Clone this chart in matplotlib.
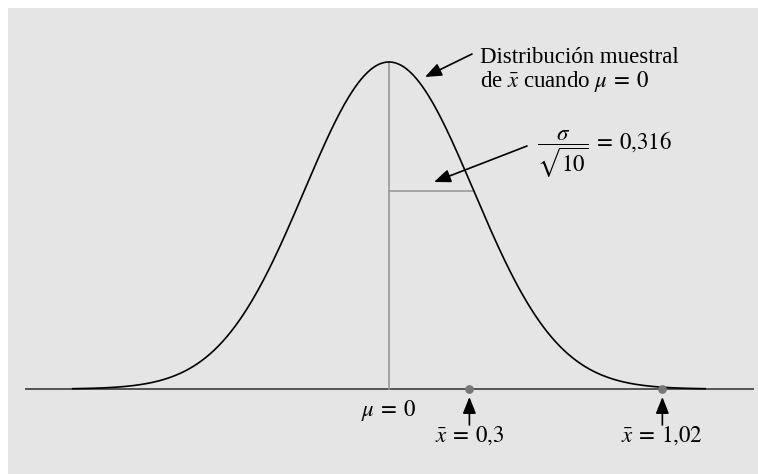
import matplotlib.pyplot as plt
from matplotlib.patches import Rectangle
import numpy as np

# Sampling distribution of the mean under H0
mu = 0.0
sigma_x = 1.0
n = 10
se = round(sigma_x / np.sqrt(n), 3)   # 0.316
obs_values = [0.3, 1.02]
obs_labels = ["0{,}3", "1{,}02"]
curve_span = 1.18

plt.rcParams["font.family"] = ["Liberation Serif", "DejaVu Serif"]
plt.rcParams["mathtext.fontset"] = "stix"
FS = 16.5
EQ = r"\:=\:"


def main():
    W, H = 758, 474
    fig = plt.figure(figsize=(W / 100, H / 100), dpi=100)
    fig.patch.set_facecolor("white")

    ax = fig.add_axes([0, 0, 1, 1])
    ax.set_facecolor("none")
    ax.axis("off")
    ax.add_patch(Rectangle((8 / W, 0), 1, (H - 8) / H, transform=fig.transFigure,
                           facecolor="#e5e5e5", edgecolor="none", zorder=0, clip_on=False))

    # pixel layout -> data limits
    cx, xscale = 389, 268
    base_px, peak_px = 389, 62
    peak = 1 / (se * np.sqrt(2 * np.pi))
    yscale = (base_px - peak_px) / peak
    ax.set_xlim(-cx / xscale, (W - cx) / xscale)
    ax.set_ylim(-(H - base_px) / yscale, base_px / yscale)

    def px(x, y):
        return (x - cx) / xscale, (base_px - y) / yscale

    # normal curve
    x = np.linspace(mu - curve_span, mu + curve_span, 600)
    y = np.exp(-0.5 * ((x - mu) / se) ** 2) / (se * np.sqrt(2 * np.pi))
    ax.plot(x, y, color="black", lw=1.2, zorder=3)

    # baseline axis
    x_left, _ = px(26, 0)
    x_right, _ = px(753, 0)
    ax.plot([x_left, x_right], [0, 0], color="#555555", lw=1.4, zorder=2)

    # mean line and one standard error at its height
    ax.plot([mu, mu], [0, peak], color="#999999", lw=1.2, zorder=2)
    y_se = peak * np.exp(-0.5)
    ax.plot([mu, mu + se], [y_se, y_se], color="#999999", lw=1.2, zorder=2)

    # observed means
    ax.scatter(obs_values, [0] * len(obs_values), s=28, color="#777777", zorder=4)

    arrow = dict(arrowstyle="-|>,head_length=1.0,head_width=0.4", color="black", lw=1.2,
                 shrinkA=0, shrinkB=0)
    for v, lab in zip(obs_values, obs_labels):
        _, y_head = px(0, 397)
        _, y_tail = px(0, 425)
        ax.annotate("", xy=(v, y_head), xytext=(v, y_tail), arrowprops=arrow)
        _, ty = px(0, 442)
        ax.text(v, ty, r"$\bar{x}" + EQ + lab + "$", fontsize=FS, ha="center", va="baseline")

    _, ty = px(0, 416)
    ax.text(mu, ty, r"$\mu" + EQ + "0$", fontsize=FS, ha="center", va="baseline")

    # curve annotation
    ax.annotate("", xy=px(425, 77), xytext=px(472, 54), arrowprops=arrow)
    tx, ty = px(480, 63)
    ax.text(tx, ty, "Distribución muestral", fontsize=FS, ha="left", va="baseline")
    tx, ty = px(480, 87)
    ax.text(tx, ty, r"de $\bar{x}$ cuando $\mu" + EQ + "0$", fontsize=FS,
            ha="left", va="baseline")

    # standard error annotation
    ax.annotate("", xy=px(434, 182), xytext=px(527, 146), arrowprops=arrow)
    tx, ty = px(537, 150)
    se_txt = f"{se:.3f}".replace(".", "{,}")
    ax.text(tx, ty, r"$\dfrac{\sigma}{\sqrt{10}}" + EQ + se_txt + "$",
            fontsize=FS, ha="left", va="baseline")

    fig.savefig("out.png", dpi=100, facecolor=fig.get_facecolor())


if __name__ == "__main__":
    main()
